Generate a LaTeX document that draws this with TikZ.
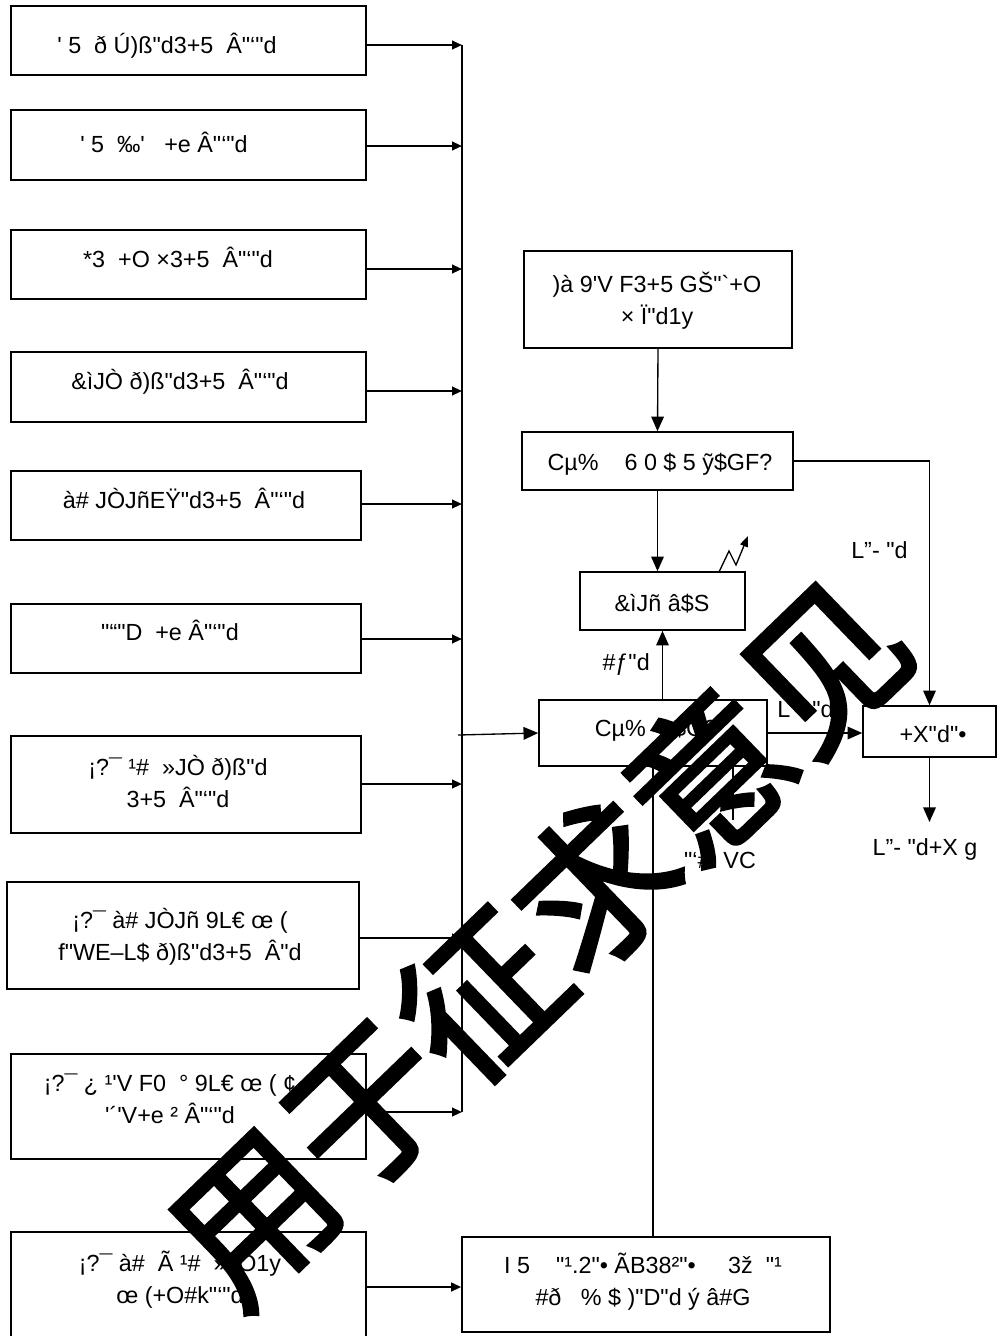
\documentclass[tikz,border=0pt]{standalone}
\usepackage{fontspec}
\newfontfamily\lsans{Liberation Sans}
\newfontfamily\cjkfont[FakeBold=2.5]{Noto Sans CJK SC}
\usetikzlibrary{arrows.meta,fit}
\tikzset{
	box/.style={draw, line width=1.4pt, inner sep=0pt},
	rbox/.style={draw, line width=1.2pt, inner sep=0pt},
	txt/.style={font=\lsans\fontsize{17.5}{24}\selectfont, align=center, anchor=base, inner sep=0pt},
	feed/.style={line width=1.5pt, -{Triangle[length=7.5pt,width=6.5pt]}},
	flow/.style={line width=1pt, -{Triangle[length=11pt,width=9.5pt]}},
}

\begin{document}
\begin{tikzpicture}[x=0.75pt, y=-0.75pt]
		\useasboundingbox (0,0) rectangle (997,1336);
		%%%%% START %%%%%
		% left column
		\node[box, fit={(11,6) (366,75)}] (src1) {};
		\node[txt] (src1t) at (167,53) {' 5\ \ ð Ú)ß"d3+5\ \ Â"‘"d};
		\node[box, fit={(11,110) (366,180)}] (src2) {};
		\node[txt] (src2t) at (164,152) {' 5\ \ ‰'\ \ \ +e Â"‘"d};
		\node[box, fit={(11,230) (366,299)}] (src3) {};
		\node[txt] (src3t) at (178,267) {*3\ \ +O ×3+5\ \ Â"‘"d};
		\node[box, fit={(11,352) (366,422)}] (src4) {};
		\node[txt] (src4t) at (180,389) {\&ìJÒ ð)ß"d3+5\ \ Â"‘"d};
		\node[box, fit={(11,471) (361,540)}] (src5) {};
		\node[txt] (src5t) at (184,508) {à\# JÒJñEŸ"d3+5\ \ Â"‘"d};
		\node[box, fit={(11,604) (361,673)}] (src6) {};
		\node[txt] (src6t) at (170,640) {"“"D\ \ +e Â"‘"d};
		\node[box, fit={(11,736) (361,833)}] (src7) {};
		\node[txt] (src7t) at (178,807) {¡?¯ ¹\#\ \ »JÒ ð)ß"d\\3+5\ \ Â"‘"d};
		\node[box, fit={(7,882) (359,989)}] (src8) {};
		\node[txt] (src8t) at (180,960) {¡?¯ à\# JÒJñ 9L€ œ (\\f"WE–L\$ ð)ß"d3+5\ \ Â"d};
		\node[box, fit={(11,1054) (366,1159)}] (src9) {};
		\node[txt] (src9t) at (170,1123) {¡?¯ ¿ ¹'V F0\ \ ° 9L€ œ ( ¢\\'´'V+e ² Â"‘"d};
		\node[box, fit={(11,1232) (366,1345)}] (src10) {};
		\node[txt] (src10t) at (180,1303) {¡?¯ à\#\ \ Ã ¹\#\ \ »JÒ1y\\œ (+O\#k"‘"d};
		
		% collecting line
		\coordinate (bus1) at (462,45);
		\coordinate (bus2) at (462,146);
		\coordinate (bus3) at (462,269);
		\coordinate (bus4) at (462,391);
		\coordinate (bus5) at (462,504);
		\coordinate (bus6) at (462,639);
		\coordinate (bus7) at (462,784);
		\coordinate (bus8) at (462,938);
		\coordinate (bus9) at (462,1112);
		\coordinate (bus0) at (458,735);
		\draw[line width=1.5pt] (bus1) -- (bus9);
		\draw[feed] (src1.east |- bus1) -- (bus1);
		\draw[feed] (src2.east |- bus2) -- (bus2);
		\draw[feed] (src3.east |- bus3) -- (bus3);
		\draw[feed] (src4.east |- bus4) -- (bus4);
		\draw[feed] (src5.east |- bus5) -- (bus5);
		\draw[feed] (src6.east |- bus6) -- (bus6);
		\draw[feed] (src7.east |- bus7) -- (bus7);
		\draw[feed] (src8.east |- bus8) -- (bus8);
		\draw[feed] (src9.east |- bus9) -- (bus9);
		
		% right column
		\node[rbox, fit={(524,251) (792,348)}] (plan) {};
		\node[txt] (plant) at (657,324) {)à 9'V F3+5 GŠ"`+O\\× Ï"d1y};
		\node[rbox, fit={(522,432) (793,490)}] (ctrl) {};
		\node[txt] (ctrlt) at (660,470) {Cµ\%\ \ \ \ 6 0 \$ 5 ỹ\$GF?};
		\node[rbox, fit={(580,572) (745,630)}] (unit) {};
		\node[txt] (unitt) at (662,611) {\&ìJñ â\$S};
		\node[rbox, fit={(539,700) (767,766)}] (core) {};
		\node[txt] (coret) at (656,736) {Cµ\%\ \ \ ¸\$G?};
		\node[rbox, fit={(863,706) (996,757)}] (out) {};
		\node[txt] (outt) at (933,742) {+X"d"•};
		\node[rbox, fit={(462,1237) (830,1332)}] (base) {};
		\node[txt] (baset) at (643,1305) {I 5\ \ \ \ "¹.2"• ÃB38²"•\ \ \ \ \ 3ž\ \ "¹\\\#ð\ \ \ \% \$ )"D"d ý â\#G};
		
		\draw[flow] (plan.south) -- (ctrl.north);
		\draw[flow] (ctrl.south) -- (ctrl.south |- unit.north);
		\draw[flow] (unit.south |- core.north) -- (unit.south);
		\draw[flow] (bus0) -- (core.west);
		\draw[flow] (core.east) -- (core.east -| out.west);
		\draw[flow] (ctrl.east) -| (out.north);
		\coordinate (outend) at (931,822);
		\draw[flow] (out.south) -- (out.south |- outend);
		\draw[line width=1pt] (core.south) -- (core.south |- base.north);
		\coordinate (vc) at (733,820);
		\draw[line width=1pt] (vc |- core.south) -- (vc);
		\draw[feed] (src10.east |- 0,1287) -- (base.west |- 0,1287);
		\draw[line width=1pt, -{Triangle[length=8pt,width=6pt]}] (719,572) -- (729,551) -- (736,565) -- (748,536);
		
		% labels
		\node[txt, anchor=base east] (lup) at (650,670) {\#ƒ"d};
		\node[txt, anchor=base west] (lright) at (851,558) {L”- "d};
		\node[txt, anchor=base west] (lmid) at (777,717) {L”- "d};
		\node[txt] (lout) at (925,855) {L”- "d+X g};
		\node[txt] (lvc) at (720,868) {"‘\#\ \ VC};
		
		% watermark
		\node[font=\cjkfont\fontsize{119}{119}\selectfont, rotate=44, inner sep=0pt] (wm) at (538,940) {用于征求意见};
		%%%%% END %%%%%
\end{tikzpicture}
\end{document}
